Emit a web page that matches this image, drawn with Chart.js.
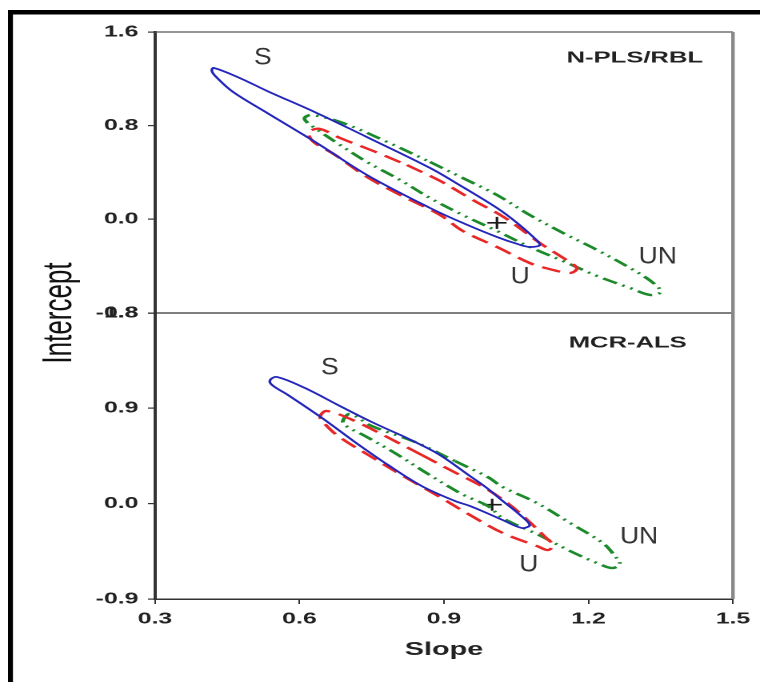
<!DOCTYPE html>
<html>
<head>
<meta charset="utf-8">
<title>Joint confidence regions - slope / intercept</title>
<script src="https://cdn.jsdelivr.net/npm/chart.js@4.4.1/dist/chart.umd.min.js"></script>
<style>
  html, body { margin: 0; padding: 0; background: #fff; overflow: hidden; }
  #wrap { width: 760px; height: 682px; overflow: hidden; }
  /* the source figure is stretched sideways, so the canvas is too */
  #chart { display: block; transform: scaleX(1.6); transform-origin: 0 0; }
</style>
</head>
<body>
<div id="wrap"><canvas id="chart" width="475" height="682"></canvas></div>
<script>
// tick values
const xTicks = [0.3, 0.6, 0.9, 1.2, 1.5];
const topTicks = [-0.8, 0.0, 0.8, 1.6];
const botTicks = [-0.9, 0.0, 0.9, 1.8];

// N-PLS/RBL panel: outlines of the elliptical regions (slope, intercept)
const sTopSlope = [0.740, 0.871, 0.939, 1.010, 1.052, 1.083, 1.099, 1.078, 1.052, 1.010, 0.939, 0.871, 0.740, 0.636, 0.533, 0.462, 0.427, 0.418, 0.422, 0.476, 0.533, 0.636];
const sTopIntercept = [0.703, 0.439, 0.276, 0.097, -0.031, -0.142, -0.219, -0.236, -0.210, -0.151, -0.031, 0.097, 0.379, 0.652, 0.908, 1.088, 1.216, 1.267, 1.293, 1.207, 1.096, 0.908];

const uTopSlope = [0.823, 0.892, 0.960, 1.027, 1.099, 1.141, 1.170, 1.176, 1.162, 1.110, 1.078, 1.010, 0.939, 0.892, 0.809, 0.740, 0.674, 0.632, 0.620, 0.622, 0.643, 0.684, 0.753];
const uTopIntercept = [0.464, 0.328, 0.165, 0.012, -0.202, -0.313, -0.390, -0.424, -0.458, -0.415, -0.373, -0.236, -0.099, 0.037, 0.208, 0.362, 0.550, 0.652, 0.712, 0.755, 0.772, 0.695, 0.584];

const unTopSlope = [0.871, 0.939, 1.010, 1.078, 1.147, 1.218, 1.286, 1.332, 1.350, 1.328, 1.286, 1.218, 1.147, 1.078, 1.010, 0.939, 0.871, 0.809, 0.740, 0.678, 0.626, 0.613, 0.611, 0.626, 0.690, 0.782];
const unTopIntercept = [0.490, 0.353, 0.208, 0.037, -0.116, -0.262, -0.415, -0.535, -0.620, -0.646, -0.586, -0.484, -0.356, -0.236, -0.099, 0.037, 0.182, 0.336, 0.490, 0.652, 0.797, 0.840, 0.870, 0.891, 0.823, 0.661];

// MCR-ALS panel
const sBotSlope = [0.819, 0.888, 0.954, 0.989, 1.022, 1.058, 1.078, 1.062, 1.022, 0.989, 0.954, 0.923, 0.854, 0.784, 0.715, 0.647, 0.576, 0.543, 0.539, 0.553, 0.611, 0.680, 0.750];
const sBotIntercept = [0.629, 0.469, 0.261, 0.148, 0.025, -0.107, -0.202, -0.230, -0.155, -0.089, -0.022, 0.025, 0.166, 0.365, 0.582, 0.808, 1.026, 1.120, 1.167, 1.196, 1.092, 0.931, 0.771];

const uBotSlope = [0.854, 0.917, 0.985, 1.037, 1.078, 1.110, 1.126, 1.116, 1.093, 1.022, 0.954, 0.888, 0.819, 0.750, 0.680, 0.649, 0.643, 0.657, 0.715, 0.798];
const uBotIntercept = [0.459, 0.308, 0.148, -0.013, -0.174, -0.315, -0.391, -0.438, -0.400, -0.277, -0.107, 0.072, 0.251, 0.440, 0.639, 0.771, 0.827, 0.875, 0.780, 0.591];

const unBotSlope = [0.923, 0.991, 1.022, 1.093, 1.162, 1.230, 1.255, 1.265, 1.249, 1.218, 1.162, 1.093, 1.022, 0.991, 0.937, 0.867, 0.798, 0.736, 0.697, 0.690, 0.705, 0.750, 0.840];
const unBotIntercept = [0.402, 0.251, 0.157, 0.006, -0.183, -0.372, -0.495, -0.570, -0.608, -0.561, -0.447, -0.287, -0.136, -0.022, 0.091, 0.280, 0.478, 0.639, 0.733, 0.780, 0.846, 0.733, 0.582];

// ideal point (+)
const idealTopSlope = [1.01];
const idealTopIntercept = [-0.03];
const idealBotSlope = [1.00];
const idealBotIntercept = [-0.01];

// text placed inside the panels
const regionNotes = [
    { axis: 'yTop', text: 'S', x: 0.524, y: 1.378 },
    { axis: 'yTop', text: 'U', x: 1.058, y: -0.492 },
    { axis: 'yTop', text: 'UN', x: 1.344, y: -0.321 },
    { axis: 'yBot', text: 'S', x: 0.663, y: 1.281 },
    { axis: 'yBot', text: 'U', x: 1.076, y: -0.580 },
    { axis: 'yBot', text: 'UN', x: 1.305, y: -0.315 }
];
const panelNames = [
    { axis: 'yTop', text: 'N-PLS/RBL', x: 1.438, y: 1.378 },
    { axis: 'yBot', text: 'MCR-ALS', x: 1.404, y: 1.517 }
];

const FONT = '"Liberation Sans", Arial, Helvetica, sans-serif';
const BLUE = '#2326b8';
const RED = '#e82828';
const GREEN = '#1c8a2a';

// closed outline from two lists
function outline(xs, ys) {
    const pts = xs.map((x, i) => ({ x: x, y: ys[i] }));
    pts.push(pts[0]);
    return pts;
}

function region(label, xs, ys, axis, color, dash, width) {
    return {
        label: label,
        data: outline(xs, ys),
        yAxisID: axis,
        showLine: true,
        borderColor: color,
        borderWidth: width,
        borderDash: dash,
        borderCapStyle: 'butt',
        tension: 0.35,
        pointRadius: 0,
        fill: false
    };
}

function ideal(xs, ys, axis) {
    return {
        label: 'ideal',
        data: xs.map((x, i) => ({ x: x, y: ys[i] })),
        yAxisID: axis,
        showLine: false,
        pointStyle: 'cross',
        pointRadius: 6,
        pointBorderColor: '#1a1a1a',
        pointBorderWidth: 1.6
    };
}

function fixTicks(values) {
    return function (scale) {
        scale.ticks = values.map(v => ({ value: v }));
    };
}

function fmt(v) {
    return Math.abs(v) < 1e-9 ? '0.0' : Number(v).toFixed(1);
}

const tickFont = { family: FONT, size: 15.5, weight: 'bold' };

function yScale(ticks, min, max, weight) {
    return {
        type: 'linear',
        position: 'left',
        stack: 'panels',
        stackWeight: weight,
        min: min,
        max: max,
        afterBuildTicks: fixTicks(ticks),
        afterFit: function (s) { s.width = 96.9; },
        ticks: { font: tickFont, color: '#222', padding: 6, callback: fmt, autoSkip: false },
        grid: { drawOnChartArea: false, drawTicks: true, tickLength: 4.4, color: '#333', lineWidth: 1.2 },
        border: { display: true, color: '#333', width: 2 }
    };
}

// black page edge, panel frame and divider
const framePlugin = {
    id: 'frame',
    beforeDraw(chart) {
        const ctx = chart.ctx;
        ctx.save();
        ctx.fillStyle = '#000';
        ctx.fillRect(5, 10, 470, 4.5);
        ctx.fillRect(5, 10, 3.1, 672);
        ctx.restore();
    },
    afterDatasetsDraw(chart) {
        const ctx = chart.ctx;
        const a = chart.chartArea;
        const mid = chart.scales.yTop.bottom;
        ctx.save();
        ctx.strokeStyle = '#555';
        ctx.lineWidth = 1.3;
        ctx.beginPath();
        ctx.moveTo(a.left, a.top);
        ctx.lineTo(a.right, a.top);
        ctx.stroke();
        ctx.strokeStyle = '#333';
        ctx.beginPath();
        ctx.moveTo(a.left, mid);
        ctx.lineTo(a.right, mid);
        ctx.stroke();
        ctx.strokeStyle = '#888';
        ctx.lineWidth = 2.2;
        ctx.beginPath();
        ctx.moveTo(a.right, a.top);
        ctx.lineTo(a.right, a.bottom);
        ctx.stroke();
        ctx.restore();
    }
};

// region letters, panel names and the shared y title
const notesPlugin = {
    id: 'notes',
    afterDraw(chart) {
        const ctx = chart.ctx;
        const xs = chart.scales.x;
        ctx.save();
        ctx.fillStyle = '#333';
        ctx.textBaseline = 'middle';
        regionNotes.forEach(n => {
            const px = xs.getPixelForValue(n.x);
            const py = chart.scales[n.axis].getPixelForValue(n.y);
            ctx.save();
            ctx.translate(px, py);
            ctx.scale(0.69, 1);
            ctx.font = '24px ' + FONT;
            ctx.textAlign = 'center';
            ctx.fillText(n.text, 0, 0);
            ctx.restore();
        });
        ctx.fillStyle = '#222';
        panelNames.forEach(n => {
            const px = xs.getPixelForValue(n.x);
            const py = chart.scales[n.axis].getPixelForValue(n.y);
            ctx.font = 'bold 16px ' + FONT;
            ctx.textAlign = 'right';
            ctx.fillText(n.text, px, py);
        });
        ctx.fillStyle = '#111';
        ctx.translate(37.5, chart.scales.yTop.bottom);
        ctx.rotate(-Math.PI / 2);
        ctx.font = '26px ' + FONT;
        ctx.textAlign = 'center';
        ctx.fillText('Intercept', 0, 0);
        ctx.restore();
    }
};

const ctx = document.getElementById('chart').getContext('2d');
const chart = new Chart(ctx, {
    type: 'scatter',
    data: {
        datasets: [
            region('S', sTopSlope, sTopIntercept, 'yTop', BLUE, [], 1.7),
            region('U', uTopSlope, uTopIntercept, 'yTop', RED, [12, 6], 2.3),
            region('UN', unTopSlope, unTopIntercept, 'yTop', GREEN, [10, 4, 1.6, 4, 1.6, 4], 2.4),
            ideal(idealTopSlope, idealTopIntercept, 'yTop'),
            region('S', sBotSlope, sBotIntercept, 'yBot', BLUE, [], 1.7),
            region('U', uBotSlope, uBotIntercept, 'yBot', RED, [12, 6], 2.3),
            region('UN', unBotSlope, unBotIntercept, 'yBot', GREEN, [10, 4, 1.6, 4, 1.6, 4], 2.4),
            ideal(idealBotSlope, idealBotIntercept, 'yBot')
        ]
    },
    options: {
        responsive: false,
        animation: false,
        devicePixelRatio: 2,
        layout: { padding: { left: 0, top: 32, right: 16.9, bottom: 0 } },
        plugins: {
            legend: { display: false },
            tooltip: { enabled: false }
        },
        scales: {
            x: {
                type: 'linear',
                min: 0.3,
                max: 1.5,
                afterBuildTicks: fixTicks(xTicks),
                afterFit: function (s) { s.height = 83; },
                ticks: { font: tickFont, color: '#222', padding: 6, callback: fmt, autoSkip: false, maxRotation: 0 },
                grid: { drawOnChartArea: false, drawTicks: true, tickLength: 5, color: '#333', lineWidth: 1 },
                border: { display: true, color: '#333', width: 1.5 },
                title: {
                    display: true,
                    text: 'Slope',
                    color: '#222',
                    font: { family: FONT, size: 18, weight: 'bold' },
                    padding: { top: 0, bottom: 21 }
                }
            },
            yBot: yScale(botTicks, -0.9, 1.8, 286),
            yTop: yScale(topTicks, -0.8, 1.6, 281)
        }
    },
    plugins: [framePlugin, notesPlugin]
});
</script>
</body>
</html>
